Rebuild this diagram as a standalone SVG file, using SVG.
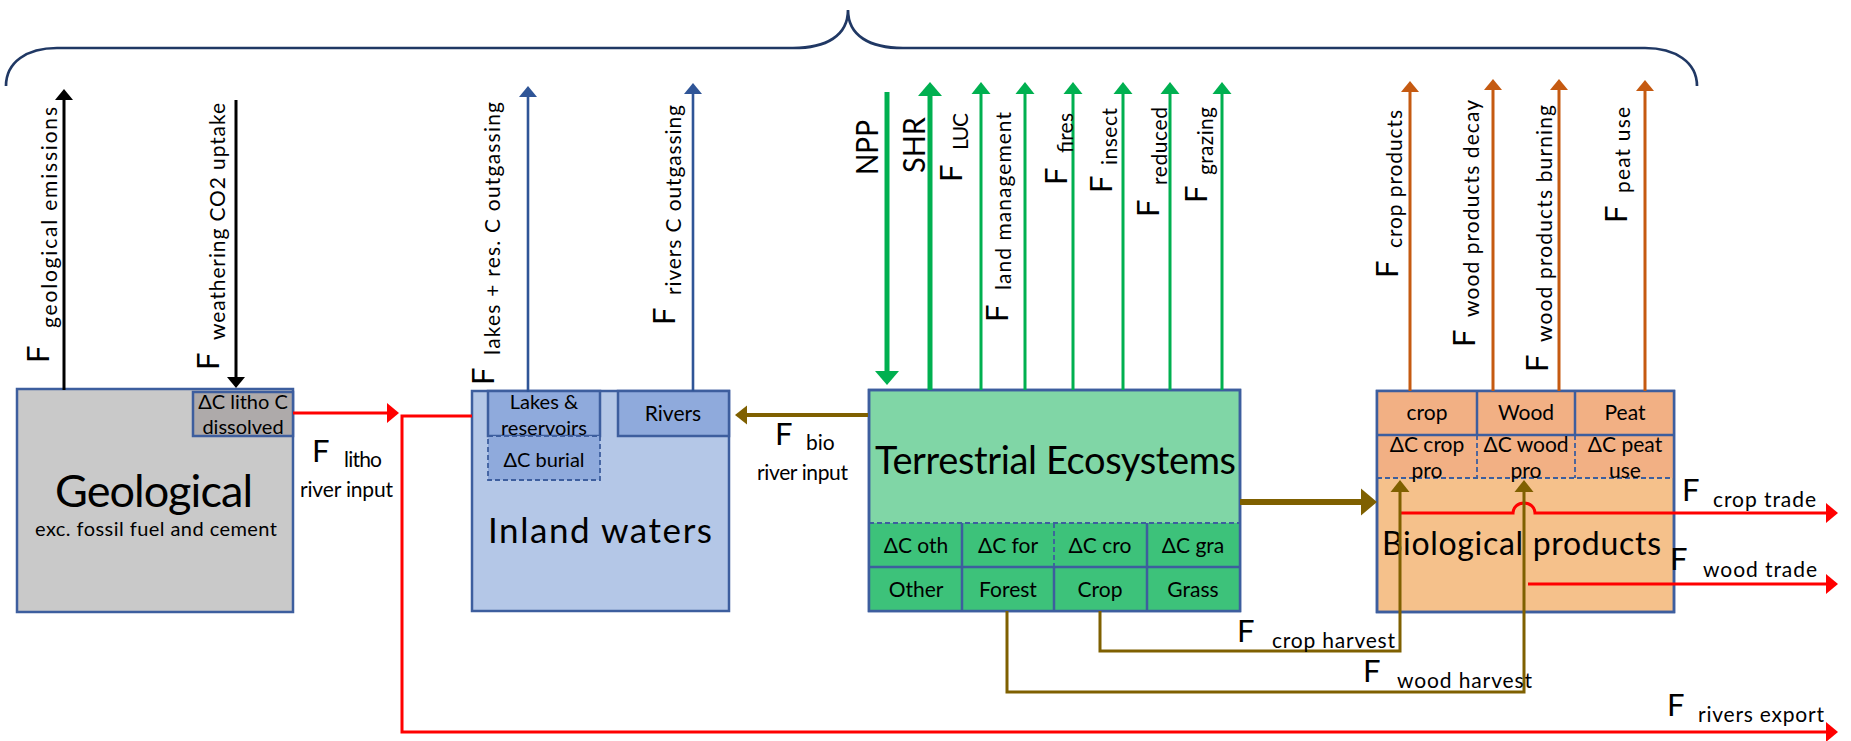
<svg xmlns="http://www.w3.org/2000/svg" width="1851" height="741" viewBox="0 0 1851 741">
<style>
text{font-family:Lato,"Liberation Sans",sans-serif;fill:#000}
.F{font-size:31px}
.s{font-size:21px}
.c{text-anchor:middle}
.box{stroke:#3D5E9E;stroke-width:2.5}
.dash{stroke:#3D5E9E;stroke-width:1.8;stroke-dasharray:5 3;fill:none}
.ln{fill:none;stroke-linejoin:miter}
</style>
<defs>
<marker id="m-k" markerUnits="userSpaceOnUse" viewBox="0 -15 20 30" markerWidth="20" markerHeight="30" refX="0" refY="0" orient="auto" overflow="visible"><path d="M0,-9 L11,0 L0,9z" fill="#000"/></marker>
<marker id="m-b" markerUnits="userSpaceOnUse" viewBox="0 -15 20 30" markerWidth="20" markerHeight="30" refX="0" refY="0" orient="auto" overflow="visible"><path d="M0,-9 L11,0 L0,9z" fill="#2F5597"/></marker>
<marker id="m-gb" markerUnits="userSpaceOnUse" viewBox="0 -15 20 30" markerWidth="20" markerHeight="30" refX="0" refY="0" orient="auto" overflow="visible"><path d="M0,-12 L14,0 L0,12z" fill="#00B050"/></marker>
<marker id="m-g" markerUnits="userSpaceOnUse" viewBox="0 -15 20 30" markerWidth="20" markerHeight="30" refX="0" refY="0" orient="auto" overflow="visible"><path d="M0,-9.5 L12,0 L0,9.5z" fill="#00B050"/></marker>
<marker id="m-o" markerUnits="userSpaceOnUse" viewBox="0 -15 20 30" markerWidth="20" markerHeight="30" refX="0" refY="0" orient="auto" overflow="visible"><path d="M0,-9 L11,0 L0,9z" fill="#C55A11"/></marker>
<marker id="m-r" markerUnits="userSpaceOnUse" viewBox="0 -15 20 30" markerWidth="20" markerHeight="30" refX="0" refY="0" orient="auto" overflow="visible"><path d="M0,-10 L12,0 L0,10z" fill="#FF0000"/></marker>
<marker id="m-br" markerUnits="userSpaceOnUse" viewBox="0 -15 20 30" markerWidth="20" markerHeight="30" refX="0" refY="0" orient="auto" overflow="visible"><path d="M0,-9.5 L12,0 L0,9.5z" fill="#7F6000"/></marker>
<marker id="m-brb" markerUnits="userSpaceOnUse" viewBox="0 -15 20 30" markerWidth="20" markerHeight="30" refX="0" refY="0" orient="auto" overflow="visible"><path d="M0,-13.5 L16,0 L0,13.5z" fill="#7F6000"/></marker>
</defs>

<path id="brace" d="M6,86 C6,62 27,48 57,48 L793,48 C826,48 848,36 848,10 C848,36 870,48 903,48 L1645,48 C1675,48 1697,62 1697,86" fill="none" stroke="#203864" stroke-width="2.7"/>

<g id="geological">
<rect class="box" x="17" y="389" width="276" height="223" fill="#C9C9C9"/>
<rect class="box" x="193" y="392" width="100" height="44" fill="#AEAAAA"/>
<text class="c" x="243" y="409" font-size="20">ΔC litho C</text>
<text class="c" x="243" y="434" font-size="20">dissolved</text>
<text class="c" x="154" y="507" font-size="45" textLength="198" lengthAdjust="spacing">Geological</text>
<text x="35" y="536" font-size="20" textLength="242" lengthAdjust="spacing">exc. fossil fuel and cement</text>
</g>

<g id="inland-waters">
<rect class="box" x="472" y="391" width="257" height="220" fill="#B4C7E7"/>
<rect class="box" x="488" y="391" width="112" height="45" fill="#8FAADC"/>
<rect x="488" y="436" width="112" height="44" fill="#8FAADC"/>
<rect class="dash" x="488" y="436" width="112" height="44"/>
<rect class="box" x="618" y="391" width="111" height="45" fill="#8FAADC"/>
<text class="c" x="544" y="409" font-size="20">Lakes &amp;</text>
<text class="c" x="544" y="435" font-size="20">reservoirs</text>
<text class="c" x="544" y="467" font-size="20">ΔC burial</text>
<text class="s c" x="673" y="421">Rivers</text>
<text x="488" y="543" font-size="35" textLength="224" lengthAdjust="spacing">Inland waters</text>
</g>

<g id="terrestrial">
<rect class="box" x="869" y="390" width="371" height="221" fill="#80D6A6"/>
<rect x="870" y="523" width="369" height="87" fill="#3DC27A"/>
<line class="dash" x1="869" y1="523" x2="1240" y2="523"/>
<line class="box" x1="869" y1="567" x2="1240" y2="567"/>
<line class="box" x1="962" y1="523" x2="962" y2="611"/>
<line class="dash" x1="1054" y1="523" x2="1054" y2="567"/>
<line class="box" x1="1054" y1="567" x2="1054" y2="611"/>
<line class="box" x1="1147" y1="523" x2="1147" y2="611"/>
<rect class="box" x="869" y="390" width="371" height="221" fill="none"/>
<text x="875" y="474" font-size="38" textLength="361" lengthAdjust="spacing">Terrestrial Ecosystems</text>
<text class="s c" x="916" y="553">ΔC oth</text>
<text class="s c" x="1008" y="553">ΔC for</text>
<text class="s c" x="1100" y="553">ΔC cro</text>
<text class="s c" x="1193" y="553">ΔC gra</text>
<text class="s c" x="916" y="597">Other</text>
<text class="s c" x="1008" y="597">Forest</text>
<text class="s c" x="1100" y="597">Crop</text>
<text class="s c" x="1193" y="597">Grass</text>
</g>

<g id="biological-products">
<rect class="box" x="1377" y="391" width="297" height="221" fill="#F5C18B"/>
<rect x="1378" y="392" width="295" height="86" fill="#F2B084"/>
<line class="box" x1="1377" y1="435" x2="1674" y2="435"/>
<line class="dash" x1="1377" y1="478" x2="1674" y2="478"/>
<line class="box" x1="1477" y1="391" x2="1477" y2="435"/>
<line class="box" x1="1575" y1="391" x2="1575" y2="435"/>
<line class="dash" x1="1477" y1="435" x2="1477" y2="478"/>
<line class="dash" x1="1575" y1="435" x2="1575" y2="478"/>
<rect class="box" x="1377" y="391" width="297" height="221" fill="none"/>
<text class="s c" x="1427" y="420">crop</text>
<text class="s c" x="1526" y="420">Wood</text>
<text class="s c" x="1625" y="420">Peat</text>
<text class="s c" x="1427" y="452">ΔC crop</text>
<text class="s c" x="1427" y="478">pro</text>
<text class="s c" x="1526" y="452">ΔC wood</text>
<text class="s c" x="1526" y="478">pro</text>
<text class="s c" x="1625" y="452">ΔC peat</text>
<text class="s c" x="1625" y="478">use</text>
<text x="1382" y="555" font-size="32" textLength="279" lengthAdjust="spacing">Biological products</text>
</g>

<g id="connectors">
<g stroke="#000" stroke-width="3">
<line x1="64" y1="390" x2="64" y2="100" marker-end="url(#m-k)"/>
<line x1="236" y1="100" x2="236" y2="377" marker-end="url(#m-k)"/>
</g>
<g stroke="#2F5597" stroke-width="2.6">
<line x1="528" y1="392" x2="528" y2="97" marker-end="url(#m-b)"/>
<line x1="693" y1="391" x2="693" y2="94" marker-end="url(#m-b)"/>
</g>
<g stroke="#00B050">
<line x1="887" y1="92" x2="887" y2="371" stroke-width="5" marker-end="url(#m-gb)"/>
<line x1="930" y1="390" x2="930" y2="96" stroke-width="5" marker-end="url(#m-gb)"/>
<line x1="981" y1="390" x2="981" y2="94" stroke-width="3" marker-end="url(#m-g)"/>
<line x1="1025" y1="390" x2="1025" y2="94" stroke-width="3" marker-end="url(#m-g)"/>
<line x1="1073" y1="390" x2="1073" y2="94" stroke-width="3" marker-end="url(#m-g)"/>
<line x1="1123" y1="390" x2="1123" y2="94" stroke-width="3" marker-end="url(#m-g)"/>
<line x1="1170" y1="390" x2="1170" y2="94" stroke-width="3" marker-end="url(#m-g)"/>
<line x1="1222" y1="390" x2="1222" y2="94" stroke-width="3" marker-end="url(#m-g)"/>
</g>
<g stroke="#C55A11" stroke-width="3">
<line x1="1410" y1="391" x2="1410" y2="92" marker-end="url(#m-o)"/>
<line x1="1493" y1="391" x2="1493" y2="90" marker-end="url(#m-o)"/>
<line x1="1559" y1="391" x2="1559" y2="90" marker-end="url(#m-o)"/>
<line x1="1645" y1="391" x2="1645" y2="91" marker-end="url(#m-o)"/>
</g>
<g class="ln" stroke="#FF0000" stroke-width="3">
<path d="M293,413 H387" marker-end="url(#m-r)"/>
<path d="M472,416 H402 V732 H1826" marker-end="url(#m-r)"/>
<path d="M1401,513 H1513 A11,10 0 0 1 1535,513 H1826" marker-end="url(#m-r)"/>
<path d="M1528,584 H1826" marker-end="url(#m-r)"/>
</g>
<g class="ln" stroke="#7F6000">
<path d="M868,415 H747" stroke-width="4" marker-end="url(#m-br)"/>
<path d="M1240,502 H1361" stroke-width="6" marker-end="url(#m-brb)"/>
<path d="M1100,611 V651 H1400 V492" stroke-width="3" marker-end="url(#m-br)"/>
<path d="M1007,611 V692 H1524 V492" stroke-width="3" marker-end="url(#m-br)"/>
</g>
</g>

<g id="labels">
<text class="F" transform="translate(49,363) rotate(-90)">F</text>
<text class="s" transform="translate(57,328) rotate(-90)" textLength="221" lengthAdjust="spacing">geological emissions</text>
<text class="F" transform="translate(219,370) rotate(-90)">F</text>
<text class="s" transform="translate(225,340) rotate(-90)" textLength="237" lengthAdjust="spacing">weathering CO2 uptake</text>
<text class="F" transform="translate(494,385) rotate(-90)">F</text>
<text class="s" transform="translate(500,355) rotate(-90)" textLength="253" lengthAdjust="spacing">lakes + res. C outgassing</text>
<text class="F" transform="translate(675,325) rotate(-90)">F</text>
<text class="s" transform="translate(681,295) rotate(-90)" textLength="190" lengthAdjust="spacing">rivers C outgassing</text>
<text class="F" transform="translate(878,175) rotate(-90)" textLength="55" lengthAdjust="spacingAndGlyphs">NPP</text>
<text class="F" transform="translate(925,173) rotate(-90)" textLength="56" lengthAdjust="spacingAndGlyphs">SHR</text>
<text class="F" transform="translate(962,182) rotate(-90)">F</text>
<text class="s" transform="translate(968,150) rotate(-90)" textLength="37" lengthAdjust="spacing">LUC</text>
<text class="F" transform="translate(1008,322) rotate(-90)">F</text>
<text class="s" transform="translate(1011,290) rotate(-90)" textLength="178" lengthAdjust="spacing">land management</text>
<text class="F" transform="translate(1067,185) rotate(-90)">F</text>
<text class="s" transform="translate(1073,153) rotate(-90)" textLength="40" lengthAdjust="spacing">fires</text>
<text class="F" transform="translate(1112,193) rotate(-90)">F</text>
<text class="s" transform="translate(1117,165) rotate(-90)" textLength="57" lengthAdjust="spacing">insect</text>
<text class="F" transform="translate(1159,217) rotate(-90)">F</text>
<text class="s" transform="translate(1167,185) rotate(-90)" textLength="78" lengthAdjust="spacing">reduced</text>
<text class="F" transform="translate(1207,203) rotate(-90)">F</text>
<text class="s" transform="translate(1213,175) rotate(-90)" textLength="68" lengthAdjust="spacing">grazing</text>
<text class="F" transform="translate(1398,278) rotate(-90)">F</text>
<text class="s" transform="translate(1402,248) rotate(-90)" textLength="138" lengthAdjust="spacing">crop products</text>
<text class="F" transform="translate(1475,347) rotate(-90)">F</text>
<text class="s" transform="translate(1479,317) rotate(-90)" textLength="217" lengthAdjust="spacing">wood products decay</text>
<text class="F" transform="translate(1548,372) rotate(-90)">F</text>
<text class="s" transform="translate(1552,342) rotate(-90)" textLength="237" lengthAdjust="spacing">wood products burning</text>
<text class="F" transform="translate(1627,223) rotate(-90)">F</text>
<text class="s" transform="translate(1630,193) rotate(-90)" textLength="86" lengthAdjust="spacing">peat use</text>

<text class="F" x="312" y="462">F</text>
<text class="s" x="344" y="467" textLength="38" lengthAdjust="spacing">litho</text>
<text class="s" x="300" y="497" textLength="93" lengthAdjust="spacing">river input</text>
<text class="F" x="775" y="445">F</text>
<text class="s" x="806" y="450">bio</text>
<text class="s" x="757" y="480" textLength="91" lengthAdjust="spacing">river input</text>
<text class="F" x="1237" y="642">F</text>
<text class="s" x="1272" y="648" textLength="123" lengthAdjust="spacing">crop harvest</text>
<text class="F" x="1363" y="682">F</text>
<text class="s" x="1397" y="688" textLength="135" lengthAdjust="spacing">wood harvest</text>
<text class="F" x="1682" y="501">F</text>
<text class="s" x="1713" y="507" textLength="103" lengthAdjust="spacing">crop trade</text>
<text class="F" x="1670" y="570">F</text>
<text class="s" x="1703" y="577" textLength="114" lengthAdjust="spacing">wood trade</text>
<text class="F" x="1667" y="716">F</text>
<text class="s" x="1698" y="722" textLength="126" lengthAdjust="spacing">rivers export</text>
</g>
</svg>
